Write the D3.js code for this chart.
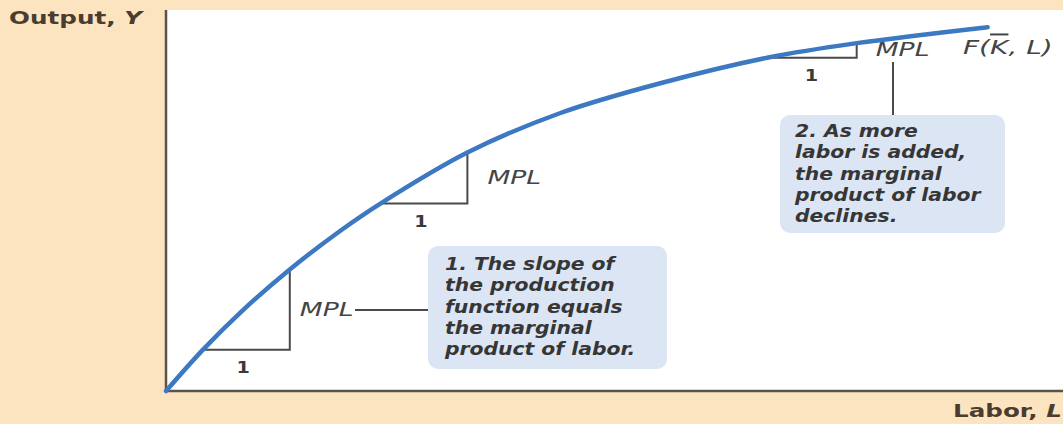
<!DOCTYPE html>
<html>
<head>
<meta charset="utf-8">
<script src="https://cdn.jsdelivr.net/npm/d3@7"></script>
<style>
  html, body { margin: 0; padding: 0; background: #fde4c0; }
  svg { display: block; }
  text { font-family: "DejaVu Sans", sans-serif; }
</style>
</head>
<body>
<svg id="chart" width="1063" height="424"></svg>
<script>
// production function (labor 0-100, output 0-100)
const laborL = [0, 4.1, 8.2, 13.8, 19.4, 23.9, 33.6, 43.9, 55.0, 67.3, 77.0, 91.6]
const outputY = [0, 10.8, 20.4, 31.9, 42.0, 49.2, 62.6, 72.9, 80.7, 87.6, 91.3, 95.5]

// slope triangles (start / end on the curve)
const triL0 = [4.1, 23.9, 67.6]
const triL1 = [13.8, 33.6, 77.0]
const triY0 = [10.8, 49.2, 87.5]
const triY1 = [31.9, 62.6, 91.3]

const note1 = ["1. The slope of", "the production", "function equals", "the marginal", "product of labor."]
const note2 = ["2. As more", "labor is added,", "the marginal", "product of labor", "declines."]

const width = 1063
const height = 424
const margin = { top: 10, right: 0, bottom: 33, left: 166 }

const svg = d3.select("#chart")

const x = d3.scaleLinear().domain([0, 100]).range([margin.left, width - margin.right])
const y = d3.scaleLinear().domain([0, 100]).range([height - margin.bottom, margin.top])

// the figure is stretched sideways, so text gets a horizontal scale
function placeText(sel, tx, ty, sx) {
  return sel.attr("transform", `translate(${tx},${ty}) scale(${sx},1)`)
}

// white plot panel
svg.append("rect")
  .attr("x", x(0))
  .attr("y", y(100))
  .attr("width", x(100) - x(0))
  .attr("height", y(0) - y(100))
  .attr("fill", "#ffffff")

// axes (plain lines, no ticks)
svg.append("line")
  .attr("x1", x(0)).attr("x2", x(0))
  .attr("y1", y(100)).attr("y2", y(0))
  .attr("stroke", "#5b5249").attr("stroke-width", 2.5)
svg.append("line")
  .attr("x1", x(0)).attr("x2", x(100))
  .attr("y1", y(0)).attr("y2", y(0))
  .attr("stroke", "#5b5249").attr("stroke-width", 2.5)

placeText(svg.append("text"), 9, 24, 1.45)
  .attr("font-size", 17).attr("font-weight", 700)
  .attr("fill", "#4a3c2e")
  .html('Output, <tspan font-style="italic">Y</tspan>')

placeText(svg.append("text"), width - 1, 417, 1.45)
  .attr("text-anchor", "end")
  .attr("font-size", 17).attr("font-weight", 700)
  .attr("fill", "#4a3c2e")
  .html('Labor, <tspan font-style="italic">L</tspan>')

// slope triangles
const tri = triL0.map((d, i) => ({ l0: d, l1: triL1[i], y0: triY0[i], y1: triY1[i] }))
const mplDx = [10, 20, 19]

svg.selectAll(".tri")
  .data(tri)
  .join("path")
  .attr("class", "tri")
  .attr("fill", "none")
  .attr("stroke", "#4a4a4a")
  .attr("stroke-width", 2)
  .attr("d", d => `M${x(d.l0)},${y(d.y0)}H${x(d.l1)}V${y(d.y1)}`)

svg.selectAll(".one")
  .data(tri)
  .join("text")
  .attr("class", "one")
  .attr("transform", d => `translate(${(x(d.l0) + x(d.l1)) / 2 - 3},${y(d.y0) + 23}) scale(1.2,1)`)
  .attr("text-anchor", "middle")
  .attr("font-size", 16)
  .attr("font-weight", 700)
  .attr("fill", "#3a3a3a")
  .text("1")

svg.selectAll(".mpl")
  .data(tri)
  .join("text")
  .attr("class", "mpl")
  .attr("transform", (d, i) => `translate(${x(d.l1) + mplDx[i]},${(y(d.y0) + y(d.y1)) / 2 + 6}) scale(1.33,1)`)
  .attr("font-size", 20)
  .attr("font-style", "italic")
  .attr("fill", "#454545")
  .text("MPL")

// production curve
const line = d3.line()
  .x((d, i) => x(laborL[i]))
  .y(d => y(d))
  .curve(d3.curveCatmullRom.alpha(0.5))

svg.append("path")
  .datum(outputY)
  .attr("fill", "none")
  .attr("stroke", "#3c79c2")
  .attr("stroke-width", 4.5)
  .attr("stroke-linecap", "round")
  .attr("d", line)

placeText(svg.append("text"), 963, 54, 1.4)
  .attr("font-size", 20)
  .attr("font-style", "italic")
  .attr("fill", "#454545")
  .html('F(<tspan style="text-decoration: overline">K</tspan>, L)')

// connector lines
svg.append("line")
  .attr("x1", 355).attr("x2", 428)
  .attr("y1", 310).attr("y2", 310)
  .attr("stroke", "#4a4a4a").attr("stroke-width", 1.8)
svg.append("line")
  .attr("x1", 893).attr("x2", 893)
  .attr("y1", 62).attr("y2", 115)
  .attr("stroke", "#4a4a4a").attr("stroke-width", 2)

// callout boxes
function callout(bx, by, bw, bh, dx, dy, lines) {
  svg.append("rect")
    .attr("x", bx).attr("y", by)
    .attr("width", bw).attr("height", bh)
    .attr("rx", 10)
    .attr("fill", "#dbe5f3")
  placeText(svg.append("text"), bx + dx, by + dy, 1.13)
    .attr("font-size", 18)
    .attr("font-style", "italic")
    .attr("font-weight", 700)
    .attr("fill", "#363636")
    .selectAll("tspan")
    .data(lines)
    .join("tspan")
    .attr("x", 0)
    .attr("y", (d, i) => i * 21.3)
    .text(d => d)
}

callout(428, 246, 239, 123, 17, 24, note1)
callout(780, 115, 225, 118, 15, 22, note2)
</script>
</body>
</html>
